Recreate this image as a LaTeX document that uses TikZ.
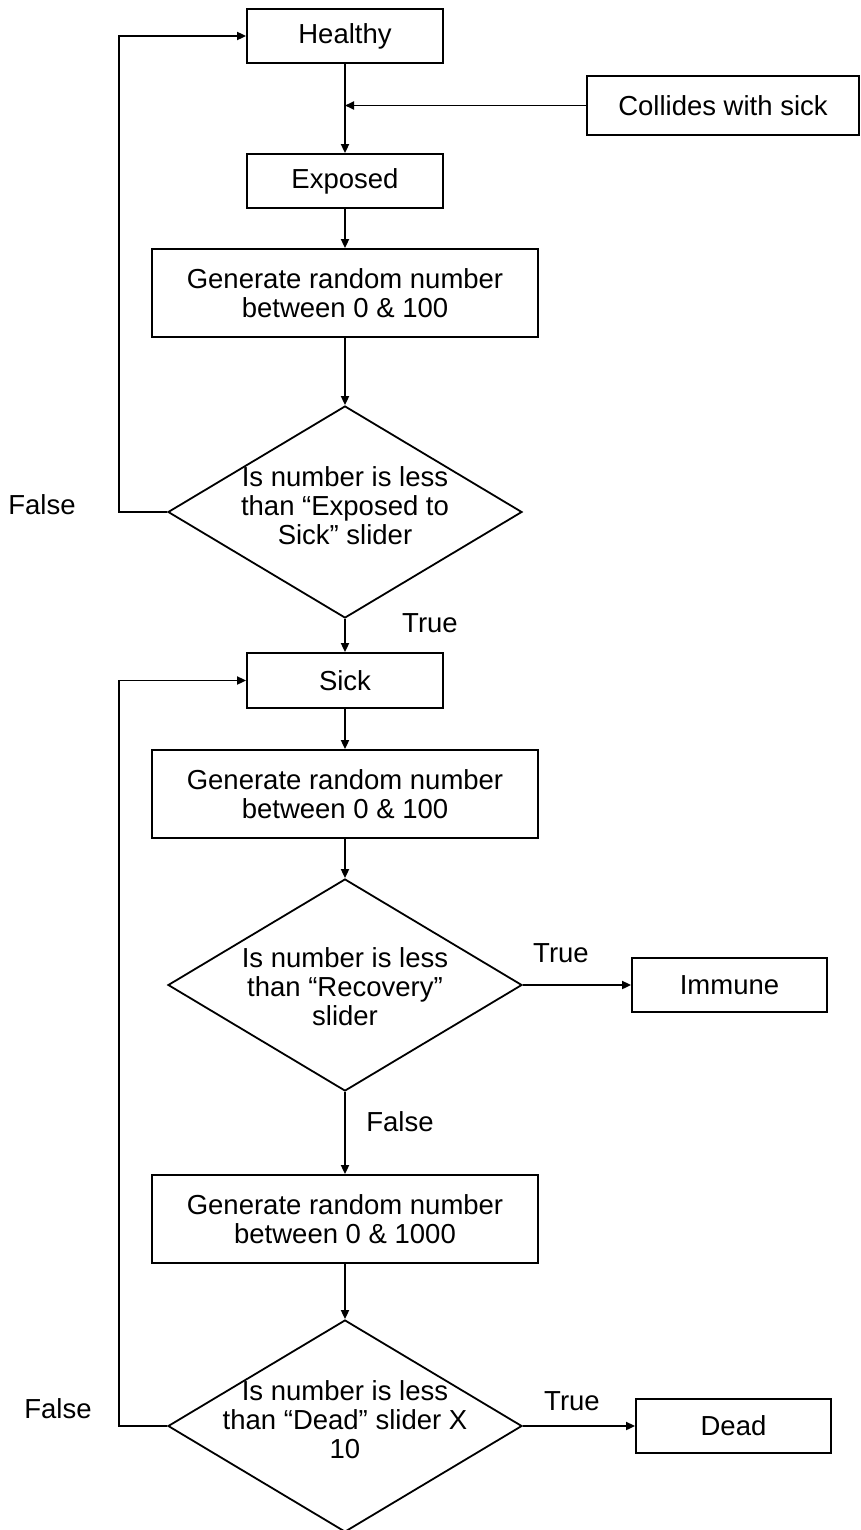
\documentclass[tikz,border=0pt]{standalone}
\usepackage{fontspec}
\setmainfont{Liberation Sans}
\usetikzlibrary{arrows.meta,shapes.geometric}
\tikzset{
  box/.style={draw, line width=1.8pt, rectangle, inner sep=0pt, align=center},
  small/.style={box, minimum width=196pt, minimum height=54pt},
  gen/.style={box, minimum width=386pt, minimum height=88pt},
  dia/.style={draw, line width=1.8pt, diamond, inner sep=0pt, minimum width=354pt, minimum height=212pt},
  dtext/.style={align=center, inner sep=0pt},
  lbl/.style={inner sep=0pt},
  arr/.style={line width=1.8pt, -{Triangle[length=9pt,width=8pt]}},
}
\begin{document}
\begin{tikzpicture}[x=1pt, y=-1pt, font=\fontsize{27.5}{29}\selectfont]
\useasboundingbox (0,0) rectangle (860,1530);
% nodes
\node[small] (healthy) at (345,36) {Healthy};
\node[box, minimum width=272pt, minimum height=59pt] (collides) at (723,105.5) {Collides with sick};
\coordinate (j) at (345,105.5);
\node[small] (exposed) at (345,181) {Exposed};
\node[gen] (gen1) at (345,293) {Generate random number\\between 0 \& 100};
\node[dia] (d1) at (345,512) {};
\node[dtext] at ([yshift=6pt]d1.center) {Is number is less\\than “Exposed to\\Sick” slider};
\node[small, minimum height=55pt] (sick) at (345,680.5) {Sick};
\node[gen] (gen2) at (345,794) {Generate random number\\between 0 \& 100};
\node[dia] (d2) at (345,985) {};
\node[dtext] at ([yshift=-2pt]d2.center) {Is number is less\\than “Recovery”\\slider};
\node[box, minimum width=195pt, minimum height=54pt] (immune) at (729.5,985) {Immune};
\node[gen] (gen3) at (345,1219) {Generate random number\\between 0 \& 1000};
\node[dia] (d3) at (345,1426) {};
\node[dtext] at ([yshift=6pt]d3.center) {Is number is less\\than “Dead” slider X\\10};
\node[box, minimum width=195pt, minimum height=54pt] (dead) at (733.5,1426) {Dead};
% labels
\node[lbl] (f1) at (42,505) {False};
\node[lbl] (t1) at (430,623) {True};
\node[lbl] (t2) at (561,953) {True};
\node[lbl] (f2) at (400,1122) {False};
\node[lbl] (t3) at (572,1401) {True};
\node[lbl] (f3) at (58,1409) {False};
% connectors
\draw[arr] (healthy.south) -- (exposed.north);
\draw[arr] (collides.west) -- (j);
\draw[arr] (exposed.south) -- (gen1.north);
\draw[arr] (gen1.south) -- (d1.north);
\draw[arr] (d1.west) -- ++(-48,0) |- (healthy.west);
\draw[arr] (d1.south) -- (sick.north);
\draw[arr] (sick.south) -- (gen2.north);
\draw[arr] (gen2.south) -- (d2.north);
\draw[arr] (d2.east) -- (immune.west);
\draw[arr] (d2.south) -- (gen3.north);
\draw[arr] (gen3.south) -- (d3.north);
\draw[arr] (d3.east) -- (dead.west);
\draw[arr] (d3.west) -- ++(-48,0) |- (sick.west);
\end{tikzpicture}
\end{document}
